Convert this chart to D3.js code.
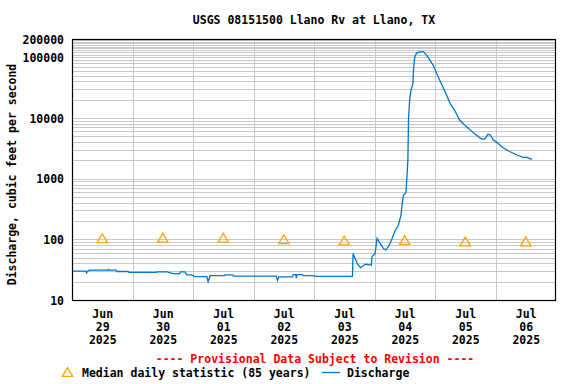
<!DOCTYPE html>
<html>
<head>
<meta charset="utf-8">
<script src="https://cdn.jsdelivr.net/npm/d3@7"></script>
<style>
  html, body { margin: 0; padding: 0; background: #fff; }
  svg { display: block; }
  text { font-family: "DejaVu Sans Mono", "Liberation Mono", monospace; font-weight: bold; font-size: 11.5px; fill: #000; }
</style>
</head>
<body>
<svg id="chart" width="576" height="384"></svg>
<script>
// ---------- DATA ----------
const title = "USGS 08151500 Llano Rv at Llano, TX";
const yLabel = "Discharge, cubic feet per second";
const provisionalNote = "---- Provisional Data Subject to Revision ----";
const legendMedian = "Median daily statistic (85 years)";
const legendDischarge = "Discharge";

const dayStarts = ["2025-06-29", "2025-06-30", "2025-07-01", "2025-07-02", "2025-07-03", "2025-07-04", "2025-07-05", "2025-07-06", "2025-07-07"];
const dayLabels = [["Jun","29","2025"],["Jun","30","2025"],["Jul","01","2025"],["Jul","02","2025"],["Jul","03","2025"],["Jul","04","2025"],["Jul","05","2025"],["Jul","06","2025"]];
const yTickValues = [10, 100, 1000, 10000, 100000, 200000];
const yTickLabels = ["10", "100", "1000", "10000", "100000", "200000"];

// Median daily statistic (85 years), one per day
const medianDays = ["2025-06-29", "2025-06-30", "2025-07-01", "2025-07-02", "2025-07-03", "2025-07-04", "2025-07-05", "2025-07-06"];
const medianValues = [104, 106, 106, 100, 95, 97, 92, 92];

// Discharge series (time, cfs)
const dischargeTimes = [
  "2025-06-29 00:00","2025-06-29 05:30","2025-06-29 05:45","2025-06-29 06:15","2025-06-29 07:00",
  "2025-06-29 14:15","2025-06-29 14:30","2025-06-29 14:45","2025-06-29 17:30","2025-06-29 17:45",
  "2025-06-29 22:15","2025-06-29 22:30","2025-06-30 09:30","2025-06-30 09:45","2025-06-30 14:00",
  "2025-06-30 14:15","2025-06-30 16:15","2025-06-30 18:45","2025-06-30 19:00","2025-06-30 20:45",
  "2025-06-30 21:30","2025-06-30 23:30","2025-07-01 00:45","2025-07-01 05:30","2025-07-01 06:00",
  "2025-07-01 06:30","2025-07-01 06:45","2025-07-01 12:30","2025-07-01 12:45","2025-07-01 15:45",
  "2025-07-01 16:00","2025-07-02 09:00","2025-07-02 09:30","2025-07-02 10:00","2025-07-02 15:30",
  "2025-07-02 15:45","2025-07-02 16:45","2025-07-02 17:00","2025-07-02 17:15","2025-07-02 19:30",
  "2025-07-02 19:45","2025-07-02 23:15","2025-07-03 01:00","2025-07-03 15:15","2025-07-03 15:30",
  "2025-07-03 16:15","2025-07-03 17:30","2025-07-03 18:30","2025-07-03 19:30","2025-07-03 20:30",
  "2025-07-03 22:45","2025-07-03 23:00","2025-07-04 00:15","2025-07-04 01:00","2025-07-04 02:15",
  "2025-07-04 03:30","2025-07-04 04:30","2025-07-04 05:45","2025-07-04 06:45","2025-07-04 08:00",
  "2025-07-04 09:30","2025-07-04 10:00","2025-07-04 10:30","2025-07-04 11:00","2025-07-04 11:30",
  "2025-07-04 12:30","2025-07-04 12:45","2025-07-04 13:15","2025-07-04 13:30","2025-07-04 14:00",
  "2025-07-04 14:30","2025-07-04 15:15","2025-07-04 15:30","2025-07-04 16:00","2025-07-04 16:45",
  "2025-07-04 18:00","2025-07-04 19:30","2025-07-04 20:15","2025-07-04 21:15","2025-07-04 23:15",
  "2025-07-05 01:15","2025-07-05 04:00","2025-07-05 06:00","2025-07-05 07:45","2025-07-05 09:45",
  "2025-07-05 12:30","2025-07-05 15:15","2025-07-05 17:15","2025-07-05 18:30","2025-07-05 19:45",
  "2025-07-05 21:00","2025-07-05 22:00","2025-07-05 23:00","2025-07-06 00:30","2025-07-06 03:00",
  "2025-07-06 05:45","2025-07-06 08:30","2025-07-06 11:00","2025-07-06 12:30","2025-07-06 14:30"
];
const dischargeValues = [
  30, 30, 28, 30, 31,
  31, 32, 31, 31, 29.5,
  29.5, 28.5, 28.5, 29, 29,
  28.5, 27.3, 27.3, 29, 29,
  26, 26, 24.3, 24.3, 20,
  23, 25.2, 25.2, 26, 26,
  24.8, 24.8, 21, 24, 24,
  26.2, 26.2, 23, 26.2, 26.2,
  25.3, 25.3, 24.5, 24.5, 58.7,
  48.6, 37.7, 34.1, 36.7, 38.8,
  37.7, 51.6, 58.7, 103.8, 85.9,
  71.1, 66.7, 78.5, 97.3, 133,
  172, 208, 251, 392, 537,
  586, 889, 2020, 9840, 21000,
  28800, 37200, 65600, 101800, 118600,
  123000, 123000, 113000, 99600, 74300,
  47700, 27000, 17400, 13500, 9230,
  7160, 5700, 4900, 4490, 4490,
  5370, 5240, 4390, 3960, 3230,
  2770, 2450, 2245, 2245, 2080
];

// ---------- CHART ----------
const svg = d3.select("#chart");
const W = 576, H = 384;
const mLeft = 72, mRight = 556, mTop = 39, mBottom = 300;

const parseT = d3.timeParse("%Y-%m-%d %H:%M");
const parseD = d3.timeParse("%Y-%m-%d");

const x = d3.scaleTime()
  .domain([parseD(dayStarts[0]), parseD(dayStarts[dayStarts.length - 1])])
  .range([mLeft, mRight]);
const y = d3.scaleLog().domain([10, 200000]).range([mBottom, mTop]);

svg.append("rect").attr("width", W).attr("height", H).attr("fill", "#fff");

// horizontal grid lines
const gridVals = [];
for (let d = 10; d < 100000; d *= 10) for (let k = 1; k <= 9; k++) gridVals.push(k * d);
for (let k = 10; k <= 19; k++) gridVals.push(k * 10000);
svg.append("g").selectAll("line").data(gridVals).join("line")
  .attr("x1", mLeft).attr("x2", mRight)
  .attr("y1", d => Math.round(y(d)) + 0.5).attr("y2", d => Math.round(y(d)) + 0.5)
  .attr("stroke", "#c8c8c8").attr("stroke-width", 1);

// vertical grid lines at midnights
const mids = dayStarts.slice(1, -1).map(parseD);
svg.append("g").selectAll("line").data(mids).join("line")
  .attr("x1", d => Math.round(x(d)) + 0.5).attr("x2", d => Math.round(x(d)) + 0.5)
  .attr("y1", mTop).attr("y2", mBottom)
  .attr("stroke", "#c8c8c8").attr("stroke-width", 1);

// median triangles
const tri = "M0,-4.4L5.2,4.3L-5.2,4.3Z";
const medData = medianDays.map((d, i) => ({ t: d3.timeHour.offset(parseD(d), 12), v: medianValues[i] }));
svg.append("g").selectAll("path").data(medData).join("path")
  .attr("d", tri)
  .attr("transform", d => `translate(${x(d.t)},${y(d.v)})`)
  .attr("fill", "none").attr("stroke", "#ffa500").attr("stroke-width", 1.3);

// discharge line
const data = dischargeTimes.map((t, i) => ({ t: parseT(t), v: dischargeValues[i] }));
svg.append("path").datum(data)
  .attr("d", d3.line().x(d => x(d.t)).y(d => y(d.v)))
  .attr("fill", "none").attr("stroke", "#0077cc").attr("stroke-width", 1.3)
  .attr("stroke-linejoin", "miter");

// frame
svg.append("rect")
  .attr("x", mLeft + 0.5).attr("y", mTop + 0.5)
  .attr("width", mRight - mLeft - 1).attr("height", mBottom - mTop)
  .attr("fill", "none").attr("stroke", "#000").attr("stroke-width", 1.2);

// y axis labels
const yAxis = d3.axisLeft(y).tickValues(yTickValues)
  .tickFormat((d, i) => yTickLabels[i]).tickSize(0).tickPadding(0);
const ya = svg.append("g").attr("transform", `translate(${mLeft - 8},0)`).call(yAxis);
ya.select(".domain").remove();
ya.selectAll("text").attr("font-family", null).attr("font-size", null).attr("fill", "#000")
  .attr("dy", "0.36em").attr("x", 0);
ya.attr("font-family", null).attr("font-size", null);

// x axis labels (three lines each, at noon)
const xTicks = dayStarts.slice(0, -1).map(d => d3.timeHour.offset(parseD(d), 12));
const xAxis = d3.axisBottom(x).tickValues(xTicks).tickSize(0).tickFormat("");
const xa = svg.append("g").attr("transform", `translate(0,${mBottom})`).call(xAxis);
xa.select(".domain").remove();
xa.attr("font-family", null).attr("font-size", null);
xa.selectAll(".tick text").remove();
xa.selectAll(".tick").each(function (d, i) {
  const g = d3.select(this);
  dayLabels[i].forEach((s, j) => {
    g.append("text").attr("text-anchor", "middle").attr("y", 18 + j * 13).text(s);
  });
});

// title
svg.append("text").attr("x", (mLeft + mRight) / 2).attr("y", 24)
  .attr("text-anchor", "middle").text(title);

// y label
svg.append("text")
  .attr("transform", `translate(16,${(mTop + mBottom) / 2 + 5}) rotate(-90)`)
  .attr("text-anchor", "middle").text(yLabel);

// provisional note
svg.append("text").attr("x", 315).attr("y", 363)
  .attr("text-anchor", "middle").style("fill", "#ff0000").text(provisionalNote);

// legend
svg.append("path").attr("d", tri).attr("transform", "translate(67.5,372)")
  .attr("fill", "none").attr("stroke", "#ffa500").attr("stroke-width", 1.3);
svg.append("text").attr("x", 82).attr("y", 377).text(legendMedian);
svg.append("line").attr("x1", 322).attr("x2", 340).attr("y1", 372.5).attr("y2", 372.5)
  .attr("stroke", "#0077cc").attr("stroke-width", 1.3);
svg.append("text").attr("x", 347).attr("y", 377).text(legendDischarge);
</script>
</body>
</html>
